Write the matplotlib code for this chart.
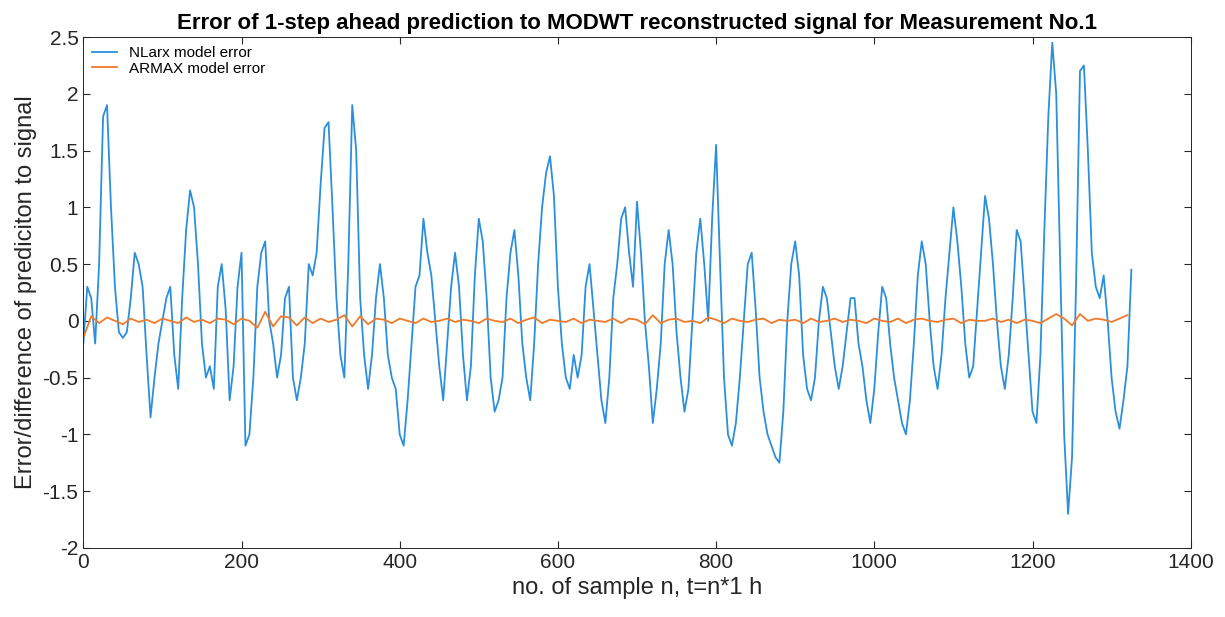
import numpy as np
import matplotlib.pyplot as plt

plt.rcParams['font.family'] = ['Liberation Sans', 'DejaVu Sans']

# NLarx model error, every 5 samples
nlarx_n = list(range(0, 1330, 5))
nlarx_err = [
    -0.2, 0.3, 0.2, -0.2, 0.5, 1.8, 1.9, 1.0, 0.3, -0.1, -0.15, -0.1, 0.2, 0.6, 0.5, 0.3, -0.3, -0.85, -0.5, -0.2,
    0.0, 0.2, 0.3, -0.3, -0.6, 0.2, 0.8, 1.15, 1.0, 0.5, -0.2, -0.5, -0.4, -0.6, 0.3, 0.5, 0.1, -0.7, -0.4, 0.3,
    0.6, -1.1, -1.0, -0.5, 0.3, 0.6, 0.7, 0.0, -0.2, -0.5, -0.3, 0.2, 0.3, -0.5, -0.7, -0.5, -0.2, 0.5, 0.4, 0.6,
    1.2, 1.7, 1.75, 1.0, 0.2, -0.3, -0.5, 0.5, 1.9, 1.5, 0.2, -0.3, -0.6, -0.3, 0.2, 0.5, 0.2, -0.3, -0.5, -0.6,
    -1.0, -1.1, -0.7, -0.2, 0.3, 0.4, 0.9, 0.6, 0.4, 0.0, -0.4, -0.7, -0.2, 0.3, 0.6, 0.3, -0.3, -0.7, -0.4, 0.4,
    0.9, 0.7, 0.2, -0.5, -0.8, -0.7, -0.5, 0.2, 0.6, 0.8, 0.4, -0.2, -0.5, -0.7, -0.2, 0.5, 1.0, 1.3, 1.45, 1.1,
    0.3, -0.2, -0.5, -0.6, -0.3, -0.5, -0.3, 0.3, 0.5, 0.1, -0.3, -0.7, -0.9, -0.5, 0.2, 0.5, 0.9, 1.0, 0.6, 0.3,
    1.05, 0.6, 0.0, -0.4, -0.9, -0.6, -0.2, 0.5, 0.8, 0.5, -0.1, -0.5, -0.8, -0.6, 0.0, 0.6, 0.9, 0.5, 0.0, 0.9,
    1.55, 0.5, -0.5, -1.0, -1.1, -0.9, -0.5, 0.0, 0.5, 0.6, 0.1, -0.5, -0.8, -1.0, -1.1, -1.2, -1.25, -0.8, 0.0, 0.5,
    0.7, 0.4, -0.3, -0.6, -0.7, -0.5, 0.0, 0.3, 0.2, -0.1, -0.4, -0.6, -0.4, -0.1, 0.2, 0.2, -0.2, -0.4, -0.7, -0.9,
    -0.6, -0.1, 0.3, 0.2, -0.2, -0.5, -0.7, -0.9, -1.0, -0.7, -0.2, 0.4, 0.7, 0.5, 0.0, -0.4, -0.6, -0.3, 0.2, 0.6,
    1.0, 0.7, 0.3, -0.2, -0.5, -0.4, 0.1, 0.6, 1.1, 0.9, 0.5, 0.0, -0.4, -0.6, -0.3, 0.2, 0.8, 0.7, 0.2, -0.3,
    -0.8, -0.9, -0.3, 0.8, 1.8, 2.45, 2.0, 0.5, -1.0, -1.7, -1.2, 0.3, 2.2, 2.25, 1.5, 0.6, 0.3, 0.2, 0.4, 0.0,
    -0.5, -0.8, -0.95, -0.7, -0.4, 0.45,
]

# ARMAX model error, every 10 samples
armax_n = list(range(0, 1330, 10))
armax_err = [
    -0.15, 0.04, -0.02, 0.03, 0.0, -0.03, 0.02, -0.01, 0.01, -0.02, 0.02, 0.0, -0.02, 0.03, -0.01, 0.01, -0.02, 0.02, 0.01, -0.03,
    0.02, 0.0, -0.06, 0.08, -0.05, 0.04, 0.03, -0.04, 0.03, -0.02, 0.02, -0.01, 0.01, 0.05, -0.05, 0.04, -0.03, 0.02, 0.01, -0.02,
    0.02, 0.0, -0.02, 0.02, -0.01, 0.0, 0.02, -0.01, 0.01, 0.0, -0.02, 0.02, 0.0, -0.01, 0.02, -0.02, 0.01, 0.03, -0.02, 0.01,
    0.0, -0.01, 0.02, -0.02, 0.01, 0.0, -0.01, 0.02, -0.02, 0.02, 0.01, -0.03, 0.05, -0.02, 0.01, 0.02, -0.01, 0.0, -0.02, 0.03,
    0.01, -0.02, 0.02, 0.0, -0.01, 0.01, 0.02, -0.02, 0.01, 0.0, 0.01, -0.02, 0.02, -0.01, 0.0, 0.02, -0.01, 0.01, 0.0, -0.02,
    0.02, 0.0, -0.01, 0.02, -0.02, 0.01, 0.02, 0.0, -0.01, 0.01, 0.02, -0.02, 0.01, 0.0, 0.0, 0.02, -0.01, 0.01, -0.02, 0.01,
    0.0, -0.02, 0.02, 0.06, 0.02, -0.04, 0.06, 0.0, 0.02, 0.01, -0.01, 0.02, 0.05,
]

fig, ax = plt.subplots(figsize=(12.25, 6.17), dpi=100)
fig.subplots_adjust(left=0.068, right=0.972, top=0.94, bottom=0.112)
ax.plot(nlarx_n, nlarx_err, color='#2b8fdc', lw=1.3, label='NLarx model error')
ax.plot(armax_n, armax_err, color='#f07a2a', lw=1.3, label='ARMAX model error')

ax.set_xlim(0, 1400)
ax.set_ylim(-2, 2.5)
ax.set_xticks(np.arange(0, 1401, 200))
ax.set_yticks(np.arange(-2, 2.51, 0.5))
ax.set_yticklabels(['-2', '-1.5', '-1', '-0.5', '0', '0.5', '1', '1.5', '2', '2.5'])
ax.tick_params(labelsize=15, direction='in', length=5, top=True, right=True, colors='#262626')
for s in ax.spines.values():
    s.set_color('#262626')
    s.set_linewidth(0.7)

ax.set_title('Error of 1-step ahead prediction to MODWT reconstructed signal for Measurement No.1',
             fontsize=16, fontweight='bold')
ax.set_xlabel('no. of sample n, t=n*1 h', fontsize=17, color='#262626')
ax.set_ylabel('Error/difference of prediciton to signal', fontsize=17, color='#262626')
ax.legend(loc='upper left', fontsize=11, frameon=False, handlelength=1.6,
          borderaxespad=0.2, labelspacing=0.1)

fig.savefig('out.png')
